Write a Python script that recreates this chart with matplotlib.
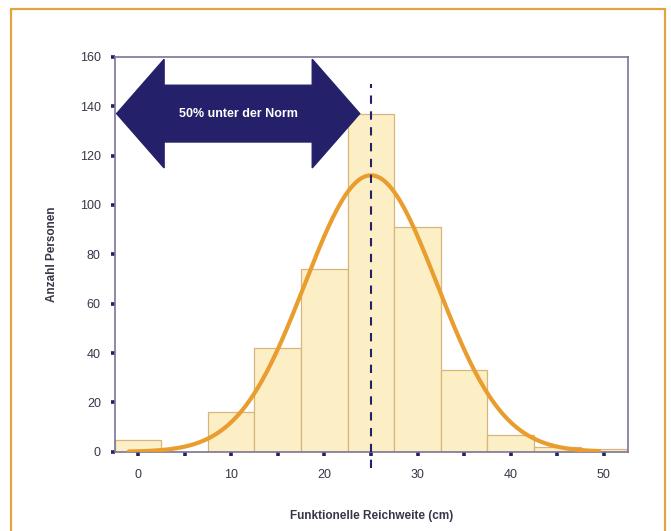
import numpy as np
import matplotlib.pyplot as plt
from matplotlib.patches import Polygon, Rectangle

plt.rcParams['font.family'] = ['Liberation Sans', 'DejaVu Sans']

# Histogramm: Klassenmitten (cm) und Anzahl Personen
bin_centers = [0, 5, 10, 15, 20, 25, 30, 35, 40, 45, 50]
counts = [5, 0, 16, 42, 74, 137, 91, 33, 7, 2, 1]
bin_width = 5

# angepasste Normalverteilung
norm_mean = 25
norm_sd = 7.1
norm_peak = 112
curve_from, curve_to = -1, 49.5

# Markierung Norm / Pfeil
norm_line_x = 25
arrow_left, arrow_right, arrow_y = -2.3, 23.8, 137
arrow_text = '50% unter der Norm'

x_ticks = [0, 10, 20, 30, 40, 50]
x_minor = [5, 15, 25, 35, 45]
y_ticks = [0, 20, 40, 60, 80, 100, 120, 140, 160]

navy = '#24206a'
spine_col = '#7a7498'
text_col = '#3a3548'

fig = plt.figure(figsize=(6.71, 5.31), dpi=100)
ax = fig.add_axes([0.171, 0.149, 0.765, 0.744])

ax.bar(bin_centers, counts, width=bin_width, color='#fcefc6',
       edgecolor='#d8b57a', linewidth=0.9, zorder=2)

xs = np.linspace(curve_from, curve_to, 300)
ys = norm_peak * np.exp(-0.5 * ((xs - norm_mean) / norm_sd) ** 2)
ax.plot(xs, ys, color='#e99d2e', lw=3, solid_capstyle='round', zorder=4)

ax.plot([norm_line_x, norm_line_x], [-6.5, 149], color=navy, lw=1.5,
        dashes=(4, 3.6), clip_on=False, zorder=5)

# Doppelpfeil
head_len = 5.1
shaft_h = 11.5
head_h = 22
pts = [(arrow_left, arrow_y),
       (arrow_left + head_len, arrow_y + head_h),
       (arrow_left + head_len, arrow_y + shaft_h),
       (arrow_right - head_len, arrow_y + shaft_h),
       (arrow_right - head_len, arrow_y + head_h),
       (arrow_right, arrow_y),
       (arrow_right - head_len, arrow_y - head_h),
       (arrow_right - head_len, arrow_y - shaft_h),
       (arrow_left + head_len, arrow_y - shaft_h),
       (arrow_left + head_len, arrow_y - head_h)]
ax.add_patch(Polygon(pts, closed=True, color=navy, zorder=6))
ax.text((arrow_left + arrow_right) / 2, arrow_y, arrow_text, color='white',
        fontsize=9, fontweight='bold', ha='center', va='center', zorder=7)

ax.set_xlim(-2.5, 52.6)
ax.set_ylim(0, 160)
ax.set_xticks(x_ticks)
ax.set_xticks(x_minor, minor=True)
ax.set_yticks(y_ticks)
ax.tick_params(axis='both', which='both', direction='out', length=3, width=2.6,
               color=navy, labelsize=9, labelcolor=text_col)
ax.tick_params(axis='x', which='both', pad=9)
ax.tick_params(axis='y', pad=7)
for s in ax.spines.values():
    s.set_color(spine_col)
    s.set_linewidth(1.2)

ax.set_xlabel('Funktionelle Reichweite (cm)', fontsize=8.5, fontweight='bold',
              color=text_col, labelpad=21)
ax.set_ylabel('Anzahl Personen', fontsize=8.5, fontweight='bold',
              color=text_col, labelpad=16)

fig.add_artist(Rectangle((0.016, -0.01), 0.975, 0.993, transform=fig.transFigure,
                         fill=False, edgecolor='#e2a443', lw=1.6))

fig.savefig('out.png', dpi=100)
